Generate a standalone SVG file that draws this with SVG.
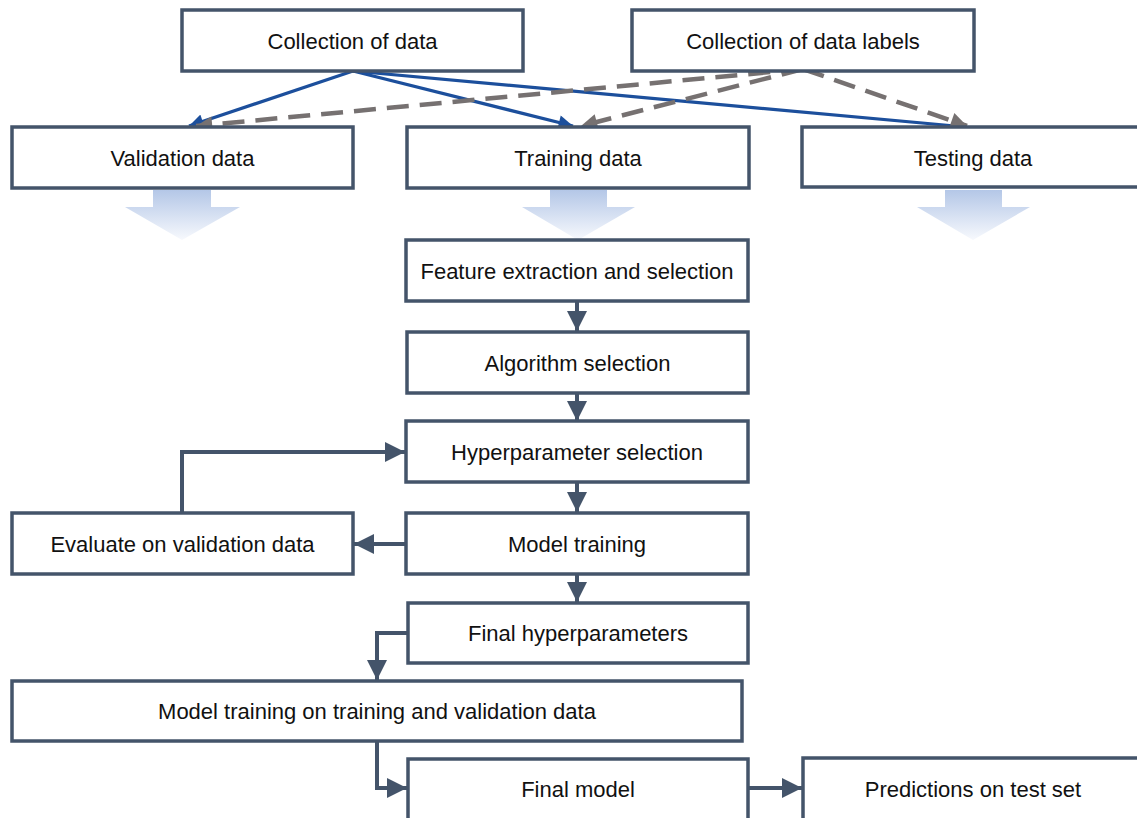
<svg xmlns="http://www.w3.org/2000/svg" width="1137" height="818" viewBox="0 0 1137 818">
  <style>
    .box { fill: #ffffff; stroke: #44546a; stroke-width: 3.5; }
    .lbl { font-family: "Liberation Sans", Arial, sans-serif; font-size: 22px; fill: #111111; text-anchor: middle; }
    .flow { fill: none; stroke: #44546a; stroke-width: 4; }
    .blue { fill: none; stroke: #1c4f9c; stroke-width: 3.2; }
    .gray { fill: none; stroke: #767171; stroke-width: 4.5; stroke-dasharray: 22 11; }
    .big { fill: url(#fade); }
  </style>
  <defs>
    <marker id="hd" viewBox="0 0 10 10" refX="10" refY="5" markerWidth="5" markerHeight="5" orient="auto" markerUnits="strokeWidth">
      <path d="M0,0 L10,5 L0,10 z" fill="#44546a"/>
    </marker>
    <marker id="hb" viewBox="0 0 10 10" refX="10" refY="5" markerWidth="5" markerHeight="4.5" orient="auto" markerUnits="strokeWidth">
      <path d="M0,0 L10,5 L0,10 z" fill="#1c4f9c"/>
    </marker>
    <marker id="hg" viewBox="0 0 10 10" refX="10" refY="5" markerWidth="4" markerHeight="3.6" orient="auto" markerUnits="strokeWidth">
      <path d="M0,0 L10,5 L0,10 z" fill="#767171"/>
    </marker>
    <linearGradient id="fade" x1="0" y1="0" x2="0" y2="1">
      <stop offset="0" stop-color="#b4c7e7"/>
      <stop offset="1" stop-color="#f7f9fd"/>
    </linearGradient>
  </defs>

  <!-- wide block arrows under the data sets -->
  <g id="block-arrows">
    <path class="big" d="M153,190 H211 V207 H240 L182,240 L125,207 H153 Z"/>
    <path class="big" d="M550,190 H607 V207 H635 L578,240 L522,207 H550 Z"/>
    <path class="big" d="M945,190 H1002 V207 H1030 L973,240 L917,207 H945 Z"/>
  </g>

  <g id="connectors">
    <!-- data split -->
    <line class="blue" x1="353" y1="71" x2="189" y2="126" marker-end="url(#hb)"/>
    <line class="blue" x1="353" y1="71" x2="573" y2="126" marker-end="url(#hb)"/>
    <line class="blue" x1="353" y1="71" x2="955" y2="126"/>
    <!-- label split -->
    <line class="gray" x1="803" y1="69" x2="196" y2="126" marker-end="url(#hg)"/>
    <line class="gray" x1="803" y1="69" x2="581" y2="126" marker-end="url(#hg)"/>
    <line class="gray" x1="803" y1="69" x2="967" y2="126" marker-end="url(#hg)"/>
    <!-- pipeline -->
    <line class="flow" x1="577" y1="301" x2="577" y2="331" marker-end="url(#hd)"/>
    <line class="flow" x1="577" y1="393" x2="577" y2="421" marker-end="url(#hd)"/>
    <line class="flow" x1="577" y1="482" x2="577" y2="512" marker-end="url(#hd)"/>
    <line class="flow" x1="577" y1="574" x2="577" y2="602" marker-end="url(#hd)"/>
    <line class="flow" x1="406" y1="544" x2="354" y2="544" marker-end="url(#hd)"/>
    <polyline class="flow" points="182,513 182,452 405,452" marker-end="url(#hd)"/>
    <polyline class="flow" points="408,633 377,633 377,680" marker-end="url(#hd)"/>
    <polyline class="flow" points="377,741 377,788 407,788" marker-end="url(#hd)"/>
    <line class="flow" x1="748" y1="788" x2="802" y2="788" marker-end="url(#hd)"/>
  </g>

  <g id="collection-data">
    <rect class="box" x="182" y="10" width="341" height="61"/>
    <text class="lbl" x="352.5" y="49">Collection of data</text>
  </g>
  <g id="collection-labels">
    <rect class="box" x="632" y="10" width="342" height="61"/>
    <text class="lbl" x="803" y="49">Collection of data labels</text>
  </g>
  <g id="validation-data">
    <rect class="box" x="12" y="127" width="341" height="61"/>
    <text class="lbl" x="182.5" y="166">Validation data</text>
  </g>
  <g id="training-data">
    <rect class="box" x="407" y="127" width="342" height="61"/>
    <text class="lbl" x="578" y="166">Training data</text>
  </g>
  <g id="testing-data">
    <rect class="box" x="802" y="127" width="342" height="60"/>
    <text class="lbl" x="973" y="166">Testing data</text>
  </g>
  <g id="feature-extraction">
    <rect class="box" x="406" y="240" width="342" height="61"/>
    <text class="lbl" x="577" y="279">Feature extraction and selection</text>
  </g>
  <g id="algorithm-selection">
    <rect class="box" x="407" y="332" width="341" height="61"/>
    <text class="lbl" x="577.5" y="371">Algorithm selection</text>
  </g>
  <g id="hyperparameter-selection">
    <rect class="box" x="406" y="421" width="342" height="61"/>
    <text class="lbl" x="577" y="460">Hyperparameter selection</text>
  </g>
  <g id="evaluate-validation">
    <rect class="box" x="12" y="513" width="341" height="61"/>
    <text class="lbl" x="182.5" y="552">Evaluate on validation data</text>
  </g>
  <g id="model-training">
    <rect class="box" x="406" y="513" width="342" height="61"/>
    <text class="lbl" x="577" y="552">Model training</text>
  </g>
  <g id="final-hyperparameters">
    <rect class="box" x="408" y="603" width="340" height="60"/>
    <text class="lbl" x="578" y="641">Final hyperparameters</text>
  </g>
  <g id="model-training-combined">
    <rect class="box" x="12" y="681" width="730" height="60"/>
    <text class="lbl" x="377" y="719">Model training on training and validation data</text>
  </g>
  <g id="final-model">
    <rect class="box" x="408" y="759" width="340" height="62"/>
    <text class="lbl" x="578" y="797">Final model</text>
  </g>
  <g id="predictions">
    <rect class="box" x="803" y="758" width="341" height="63"/>
    <text class="lbl" x="973" y="797">Predictions on test set</text>
  </g>
</svg>
